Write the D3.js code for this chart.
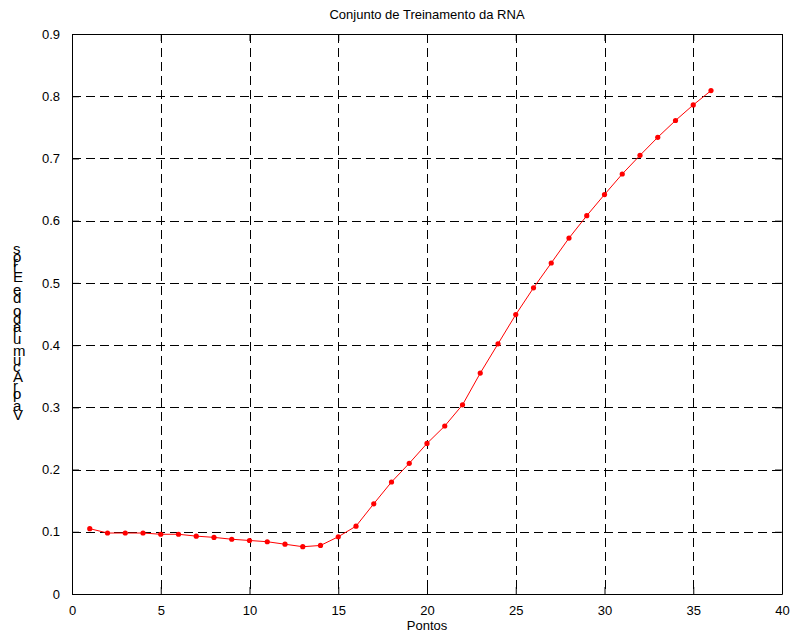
<!DOCTYPE html>
<html>
<head>
<meta charset="utf-8">
<script src="https://cdn.jsdelivr.net/npm/d3@7"></script>
<style>
    html, body { margin: 0; padding: 0; background: #fff; }
    svg text { font-family: "Liberation Sans", Arial, Helvetica, sans-serif; }
</style>
</head>
<body>
<div id="chart"></div>
<script>
(function () {

    'use strict';

    // chart data
    var pontos = [1, 2, 3, 4, 5, 6, 7, 8, 9, 10, 11, 12, 13, 14, 15, 16, 17, 18,
        19, 20, 21, 22, 23, 24, 25, 26, 27, 28, 29, 30, 31, 32, 33, 34, 35, 36];
    var erros = [0.105, 0.098, 0.098, 0.098, 0.096, 0.096, 0.093, 0.091, 0.088, 0.086, 0.084, 0.080,
        0.076, 0.078, 0.092, 0.109, 0.145, 0.180, 0.210, 0.242, 0.270, 0.304, 0.355, 0.402,
        0.449, 0.492, 0.532, 0.572, 0.608, 0.642, 0.675, 0.705, 0.734, 0.761, 0.786, 0.809];
    var xTicks = [0, 5, 10, 15, 20, 25, 30, 35, 40];
    var yTicks = [0, 0.1, 0.2, 0.3, 0.4, 0.5, 0.6, 0.7, 0.8, 0.9];

    var titleText = 'Conjunto de Treinamento da RNA';
    var xLabelText = 'Pontos';
    var yLabelText = 'Valor Acumulado de Erros';

    var width = 792;
    var height = 634;
    var margin = {top: 34, right: 10, bottom: 40, left: 72};

    var innerW = width - margin.left - margin.right;
    var innerH = height - margin.top - margin.bottom;

    var svg = d3.select('#chart')
        .append('svg')
            .attr('width', width)
            .attr('height', height);

    var x = d3.scaleLinear().domain([0, 40]).range([0, innerW]);
    var y = d3.scaleLinear().domain([0, 0.9]).range([innerH, 0]);

    var g = svg.append('g')
        .attr('transform', 'translate(' + margin.left + ',' + margin.top + ')');

    // < grid >
    g.append('g')
        .selectAll('line')
        .data(xTicks.slice(1, -1))
        .enter()
        .append('line')
            .attr('x1', function (d) { return Math.round(x(d)) + 0.5; })
            .attr('x2', function (d) { return Math.round(x(d)) + 0.5; })
            .attr('y1', 0)
            .attr('y2', innerH)
            .attr('stroke', '#000')
            .attr('stroke-dasharray', '9,5');

    g.append('g')
        .selectAll('line')
        .data(yTicks.slice(1, -1))
        .enter()
        .append('line')
            .attr('y1', function (d) { return Math.round(y(d)) + 0.5; })
            .attr('y2', function (d) { return Math.round(y(d)) + 0.5; })
            .attr('x1', 0)
            .attr('x2', innerW)
            .attr('stroke', '#000')
            .attr('stroke-dasharray', '9,5');

    // < axes, ticks inside on all four sides >
    var tickLen = 7;

    var xAxis = g.append('g')
        .attr('transform', 'translate(0,' + innerH + ')')
        .call(d3.axisBottom(x).tickValues(xTicks).tickSizeInner(-tickLen).tickSizeOuter(0).tickPadding(12));

    var xAxisTop = g.append('g')
        .call(d3.axisTop(x).tickValues(xTicks).tickSizeInner(-tickLen).tickSizeOuter(0).tickFormat(''));

    var yAxis = g.append('g')
        .call(d3.axisLeft(y).tickValues(yTicks).tickSizeInner(-tickLen).tickSizeOuter(0).tickPadding(12)
            .tickFormat(function (d) { return d === 0 ? '0' : d3.format('.1f')(d); }));

    var yAxisRight = g.append('g')
        .attr('transform', 'translate(' + innerW + ',0)')
        .call(d3.axisRight(y).tickValues(yTicks).tickSizeInner(-tickLen).tickSizeOuter(0).tickFormat(''));

    [xAxis, xAxisTop, yAxis, yAxisRight].forEach(function (ax) {
        ax.select('.domain').attr('stroke', '#000');
        ax.selectAll('.tick line').attr('stroke', '#000');
        ax.selectAll('.tick text')
            .attr('fill', '#000')
            .style('font-size', '13px');
    });

    // < series >
    var points = pontos.map(function (p, i) {
        return {x: p, y: erros[i]};
    });

    var line = d3.line()
        .x(function (d) { return x(d.x); })
        .y(function (d) { return y(d.y); });

    g.append('path')
        .datum(points)
        .attr('d', line)
        .attr('fill', 'none')
        .attr('stroke', '#ff0000')
        .attr('stroke-width', 1);

    g.selectAll('circle')
        .data(points)
        .enter()
        .append('circle')
            .attr('cx', function (d) { return x(d.x); })
            .attr('cy', function (d) { return y(d.y); })
            .attr('r', 2.6)
            .attr('fill', '#ff0000');

    // < labels >
    svg.append('text')
        .attr('x', margin.left + innerW / 2)
        .attr('y', 19)
        .attr('text-anchor', 'middle')
        .style('font-size', '13px')
        .text(titleText);

    svg.append('text')
        .attr('x', margin.left + innerW / 2)
        .attr('y', 630)
        .attr('text-anchor', 'middle')
        .style('font-size', '13px')
        .text(xLabelText);

    // y label: rotated baseline, but every glyph turned back upright (as in the original figure)
    svg.append('text')
        .attr('transform', 'translate(13,333) rotate(-90)')
        .attr('text-anchor', 'middle')
        .attr('rotate', 90)
        .style('font-size', '15px')
        .text(yLabelText);

}());
</script>
</body>
</html>
